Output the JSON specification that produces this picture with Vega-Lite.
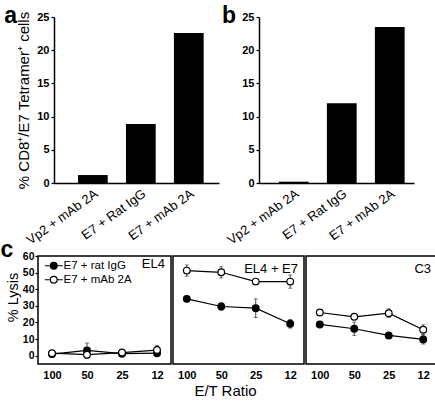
{
  "$schema": "https://vega.github.io/schema/vega-lite/v6.json",
  "background": "white",
  "padding": {"left": 0, "top": 5, "right": 1, "bottom": 1},
  "config": {
    "font": "Liberation Sans",
    "view": {"stroke": null},
    "axis": {"domainColor": "black", "tickColor": "black", "labelColor": "black", "titleColor": "black", "grid": false, "labelFontWeight": "bold", "labelFontSize": 11, "titleFontWeight": "normal", "domainWidth": 1.5, "tickWidth": 1.2, "tickSize": 4},
    "title": {"color": "black"}
  },
  "datasets": {
    "barsA": [
      {"group": "Vp2 + mAb 2A", "value": 1.2},
      {"group": "E7 + Rat IgG", "value": 8.9},
      {"group": "E7 + mAb 2A", "value": 22.6}
    ],
    "barsB": [
      {"group": "Vp2 + mAb 2A", "value": 0.2},
      {"group": "E7 + Rat IgG", "value": 12.0},
      {"group": "E7 + mAb 2A", "value": 23.5}
    ],
    "lysis": [
      {"panel": "EL4", "ratio": "100", "series": "E7 + rat IgG", "y": 1.0, "lo": 0.5, "hi": 1.5},
      {"panel": "EL4", "ratio": "50", "series": "E7 + rat IgG", "y": 3.2, "lo": -1.2, "hi": 7.6},
      {"panel": "EL4", "ratio": "25", "series": "E7 + rat IgG", "y": 1.2, "lo": 0.7, "hi": 1.7},
      {"panel": "EL4", "ratio": "12", "series": "E7 + rat IgG", "y": 1.5, "lo": 0.5, "hi": 2.5},
      {"panel": "EL4", "ratio": "100", "series": "E7 + mAb 2A", "y": 1.5, "lo": 0.7, "hi": 2.3},
      {"panel": "EL4", "ratio": "50", "series": "E7 + mAb 2A", "y": 0.6, "lo": -1.5, "hi": 2.7},
      {"panel": "EL4", "ratio": "25", "series": "E7 + mAb 2A", "y": 1.9, "lo": 1.3, "hi": 2.5},
      {"panel": "EL4", "ratio": "12", "series": "E7 + mAb 2A", "y": 3.4, "lo": 0.6, "hi": 6.2},
      {"panel": "EL4 + E7", "ratio": "100", "series": "E7 + rat IgG", "y": 34.2, "lo": 32.5, "hi": 35.9},
      {"panel": "EL4 + E7", "ratio": "50", "series": "E7 + rat IgG", "y": 29.6, "lo": 27.4, "hi": 31.8},
      {"panel": "EL4 + E7", "ratio": "25", "series": "E7 + rat IgG", "y": 28.6, "lo": 23.0, "hi": 34.2},
      {"panel": "EL4 + E7", "ratio": "12", "series": "E7 + rat IgG", "y": 19.2, "lo": 16.6, "hi": 21.8},
      {"panel": "EL4 + E7", "ratio": "100", "series": "E7 + mAb 2A", "y": 51.2, "lo": 47.8, "hi": 54.6},
      {"panel": "EL4 + E7", "ratio": "50", "series": "E7 + mAb 2A", "y": 50.2, "lo": 46.8, "hi": 53.6},
      {"panel": "EL4 + E7", "ratio": "25", "series": "E7 + mAb 2A", "y": 44.6, "lo": 44.1, "hi": 45.1},
      {"panel": "EL4 + E7", "ratio": "12", "series": "E7 + mAb 2A", "y": 44.6, "lo": 40.6, "hi": 48.6},
      {"panel": "C3", "ratio": "100", "series": "E7 + rat IgG", "y": 18.8, "lo": 18.0, "hi": 19.6},
      {"panel": "C3", "ratio": "50", "series": "E7 + rat IgG", "y": 16.2, "lo": 12.2, "hi": 20.2},
      {"panel": "C3", "ratio": "25", "series": "E7 + rat IgG", "y": 12.2, "lo": 10.7, "hi": 13.7},
      {"panel": "C3", "ratio": "12", "series": "E7 + rat IgG", "y": 9.8, "lo": 7.0, "hi": 12.6},
      {"panel": "C3", "ratio": "100", "series": "E7 + mAb 2A", "y": 26.0, "lo": 25.0, "hi": 27.0},
      {"panel": "C3", "ratio": "50", "series": "E7 + mAb 2A", "y": 23.4, "lo": 22.4, "hi": 24.4},
      {"panel": "C3", "ratio": "25", "series": "E7 + mAb 2A", "y": 25.6, "lo": 23.0, "hi": 28.2},
      {"panel": "C3", "ratio": "12", "series": "E7 + mAb 2A", "y": 15.6, "lo": 12.6, "hi": 18.6}
    ]
  },
  "spacing": -9,
  "vconcat": [
    {
      "spacing": 3,
      "hconcat": [
        {
          "width": 181,
          "height": 166,
          "title": {"text": "a", "orient": "left", "anchor": "end", "angle": 0, "baseline": "top", "align": "right", "fontSize": 23, "fontWeight": "bold", "frame": "bounds", "offset": -13, "dy": -6},
          "data": {"name": "barsA"},
          "mark": {"type": "bar", "color": "black"},
          "encoding": {
            "x": {"field": "group", "type": "nominal", "sort": null, "scale": {"paddingInner": 0.38, "paddingOuter": 0.41, "align": 0.61, "rangeMin": 16}, "axis": {"title": null, "labelAngle": -36, "labelFontWeight": "normal", "labelFontSize": 13, "ticks": false, "labelPadding": 4}},
            "y": {"field": "value", "type": "quantitative", "scale": {"domain": [0, 25]}, "axis": {"values": [0, 5, 10, 15, 20, 25], "offset": -16, "tickSize": 3, "title": "% CD8⁺/E7 Tetramer⁺ cells", "titleFontSize": 15, "titlePadding": 5}}
          }
        },
        {
          "width": 155,
          "height": 166,
          "title": {"text": "b", "orient": "left", "anchor": "end", "angle": 0, "baseline": "top", "align": "right", "fontSize": 23, "fontWeight": "bold", "frame": "bounds", "offset": -25, "dy": -6},
          "data": {"name": "barsB"},
          "mark": {"type": "bar", "color": "black"},
          "encoding": {
            "x": {"field": "group", "type": "nominal", "sort": null, "scale": {"paddingInner": 0.38, "paddingOuter": 0.305, "align": 0.68}, "axis": {"title": null, "labelAngle": -36, "labelFontWeight": "normal", "labelFontSize": 13, "ticks": false, "labelPadding": 4}},
            "y": {"field": "value", "type": "quantitative", "scale": {"domain": [0, 25]}, "axis": {"values": [0, 5, 10, 15, 20, 25], "tickSize": 3, "title": null}}
          }
        }
      ]
    },
    {
      "title": {"text": "c", "anchor": "start", "frame": "bounds", "fontSize": 23, "fontWeight": "bold", "offset": -4, "dx": -4, "dy": 8},
      "spacing": 0,
      "resolve": {"scale": {"fill": "independent"}, "legend": {"fill": "independent"}},
      "hconcat": [
        {
          "width": 133,
          "height": 108,
          "view": {"stroke": "black", "strokeWidth": 1.5},
          "title": {"text": "EL4", "anchor": "end", "offset": -20, "dx": -6, "fontSize": 13, "fontWeight": "normal"},
          "data": {"name": "lysis"},
          "transform": [{"filter": "datum.panel === 'EL4'"}],
          "encoding": {
            "x": {"field": "ratio", "type": "ordinal", "sort": ["100", "50", "25", "12"], "scale": {"type": "point", "padding": 0.4}, "axis": {"title": null, "labelAngle": 0, "domain": false, "ticks": false, "labelPadding": 5}},
            "y": {"field": "y", "type": "quantitative", "scale": {"domain": [-5, 60], "nice": false}, "axis": {"values": [0, 10, 20, 30, 40, 50, 60], "domain": false, "title": "% Lysis", "titleFontSize": 14.5, "titlePadding": 2, "titleY": 41, "labelFontSize": 10.5, "labelPadding": 1, "tickSize": 3}}
          },
          "layer": [
            {"mark": {"type": "errorbar", "color": "#444", "thickness": 1, "ticks": {"size": 4, "color": "#444"}}, "encoding": {"y": {"field": "lo", "type": "quantitative"}, "y2": {"field": "hi"}, "detail": {"field": "series"}}},
            {"mark": {"type": "line", "color": "black", "strokeWidth": 1.2}, "encoding": {"detail": {"field": "series"}}},
            {"mark": {"type": "point", "shape": "circle", "stroke": "black", "strokeWidth": 1.2, "size": 45, "opacity": 1, "filled": false},
             "encoding": {"fill": {"field": "series", "type": "nominal", "scale": {"domain": ["E7 + rat IgG", "E7 + mAb 2A"], "range": ["black", "white"]},
               "legend": {"title": null, "orient": "top-left", "offset": 4, "padding": 0, "labelFontSize": 11.5, "labelFontWeight": "normal", "labelColor": "black", "symbolType": "M-2.25,0H-0.85M0.85,0H2.25M-0.85,0A0.85,0.85 0 1,1 0.85,0A0.85,0.85 0 1,1 -0.85,0Z", "symbolSize": 64, "symbolStrokeColor": "black", "symbolStrokeWidth": 1.2, "labelOffset": 4, "rowPadding": 1, "symbolOffset": 6}}}}
          ]
        },
        {
          "width": 131,
          "height": 108,
          "view": {"stroke": "black", "strokeWidth": 1.5},
          "title": {"text": "EL4 + E7", "anchor": "end", "offset": -20, "dx": -6, "fontSize": 13, "fontWeight": "normal"},
          "data": {"name": "lysis"},
          "transform": [{"filter": "datum.panel === 'EL4 + E7'"}],
          "encoding": {
            "x": {"field": "ratio", "type": "ordinal", "sort": ["100", "50", "25", "12"], "scale": {"type": "point", "padding": 0.4}, "axis": {"title": "E/T Ratio", "titleFontSize": 15, "titleFontWeight": "normal", "titleX": 52, "titleAlign": "center", "titlePadding": 3, "labelAngle": 0, "domain": false, "ticks": false, "labelPadding": 5}},
            "y": {"field": "y", "type": "quantitative", "scale": {"domain": [-5, 60], "nice": false}, "axis": null}
          },
          "layer": [
            {"mark": {"type": "errorbar", "color": "#444", "thickness": 1, "ticks": {"size": 4, "color": "#444"}}, "encoding": {"y": {"field": "lo", "type": "quantitative"}, "y2": {"field": "hi"}, "detail": {"field": "series"}}},
            {"mark": {"type": "line", "color": "black", "strokeWidth": 1.2}, "encoding": {"detail": {"field": "series"}}},
            {"mark": {"type": "point", "shape": "circle", "stroke": "black", "strokeWidth": 1.2, "size": 45, "opacity": 1, "filled": false},
             "encoding": {"fill": {"field": "series", "type": "nominal", "scale": {"domain": ["E7 + rat IgG", "E7 + mAb 2A"], "range": ["black", "white"]}, "legend": null}}}
          ]
        },
        {
          "width": 131,
          "height": 108,
          "view": {"stroke": "black", "strokeWidth": 1.5},
          "title": {"text": "C3", "anchor": "end", "offset": -20, "dx": -6, "fontSize": 13, "fontWeight": "normal"},
          "data": {"name": "lysis"},
          "transform": [{"filter": "datum.panel === 'C3'"}],
          "encoding": {
            "x": {"field": "ratio", "type": "ordinal", "sort": ["100", "50", "25", "12"], "scale": {"type": "point", "padding": 0.4}, "axis": {"title": null, "labelAngle": 0, "domain": false, "ticks": false, "labelPadding": 5}},
            "y": {"field": "y", "type": "quantitative", "scale": {"domain": [-5, 60], "nice": false}, "axis": null}
          },
          "layer": [
            {"mark": {"type": "errorbar", "color": "#444", "thickness": 1, "ticks": {"size": 4, "color": "#444"}}, "encoding": {"y": {"field": "lo", "type": "quantitative"}, "y2": {"field": "hi"}, "detail": {"field": "series"}}},
            {"mark": {"type": "line", "color": "black", "strokeWidth": 1.2}, "encoding": {"detail": {"field": "series"}}},
            {"mark": {"type": "point", "shape": "circle", "stroke": "black", "strokeWidth": 1.2, "size": 45, "opacity": 1, "filled": false},
             "encoding": {"fill": {"field": "series", "type": "nominal", "scale": {"domain": ["E7 + rat IgG", "E7 + mAb 2A"], "range": ["black", "white"]}, "legend": null}}}
          ]
        }
      ]
    }
  ]
}
